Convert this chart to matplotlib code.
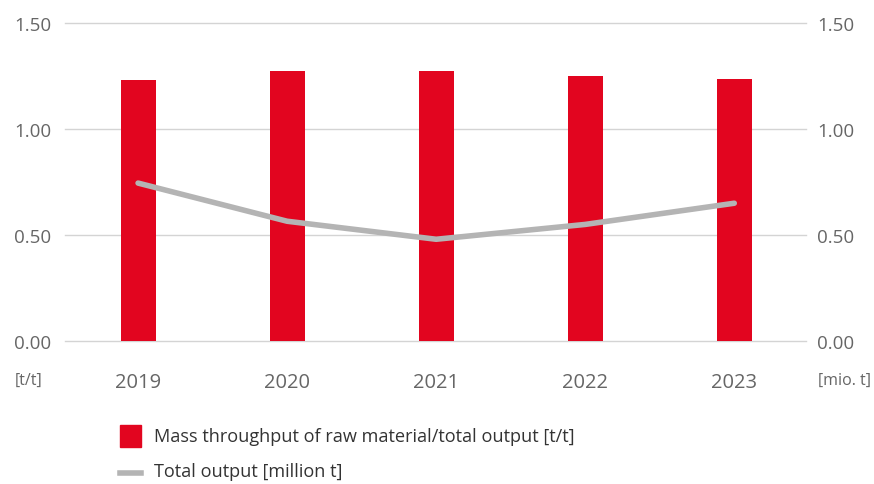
import matplotlib
matplotlib.use("Agg")
import matplotlib.pyplot as plt
from matplotlib.patches import Rectangle
from matplotlib.lines import Line2D

years = ["2019", "2020", "2021", "2022", "2023"]
mass_throughput = [1.23, 1.275, 1.275, 1.25, 1.235]
total_output = [0.745, 0.565, 0.48, 0.55, 0.65]
yticks = [0.0, 0.5, 1.0, 1.5]

red = "#e2051f"
grey_line = "#b4b4b4"
text_col = "#666666"

plt.rcParams["font.family"] = ["Open Sans", "DejaVu Sans"]

fig = plt.figure(figsize=(8.74, 4.85), dpi=100)
ax = fig.add_axes([0.0744, 0.2948, 0.8476, 0.6557])
x = list(range(len(years)))

ax.bar(x, mass_throughput, width=0.235, color=red, zorder=2)
ax2 = ax.twinx()
ax2.plot(x, total_output, color=grey_line, lw=4, solid_capstyle="round", zorder=3)

for a in (ax, ax2):
    a.set_ylim(0, 1.5)
    a.set_yticks(yticks)
    a.set_yticklabels([f"{v:.2f}" for v in yticks])
    a.tick_params(axis="y", length=0, labelsize=13.5, labelcolor=text_col)
    for s in a.spines.values():
        s.set_visible(False)
ax.tick_params(axis="y", pad=10)
ax2.tick_params(axis="y", pad=8)
ax.set_xlim(-0.49, 4.48)
ax.set_xticks(x)
ax.set_xticklabels(years)
ax.tick_params(axis="x", length=0, pad=22, labelsize=14.5, labelcolor=text_col)
ax.yaxis.grid(True, color="#d4d4d4", lw=1)
for gl in ax.yaxis.get_gridlines():
    gl.set_clip_on(False)
ax.set_axisbelow(True)

fig.text(15 / 874, 1 - 381 / 485, "[t/t]", fontsize=11.5, color=text_col, va="center", ha="left")
fig.text(818 / 874, 1 - 381 / 485, "[mio. t]", fontsize=11.5, color=text_col, va="center", ha="left")

# legend
fig.patches.append(Rectangle((120 / 874, 1 - 448 / 485), 21 / 874, 22 / 485,
                             transform=fig.transFigure, color=red))
fig.lines.append(Line2D([120 / 874, 141 / 874], [1 - 474 / 485] * 2,
                        transform=fig.transFigure, color=grey_line, lw=4))
fig.text(154 / 874, 1 - 437 / 485, "Mass throughput of raw material/total output [t/t]",
         fontsize=13.1, color="#333333", va="center")
fig.text(154 / 874, 1 - 472 / 485, "Total output [million t]",
         fontsize=13.1, color="#333333", va="center")

fig.savefig("out.png", dpi=100)
